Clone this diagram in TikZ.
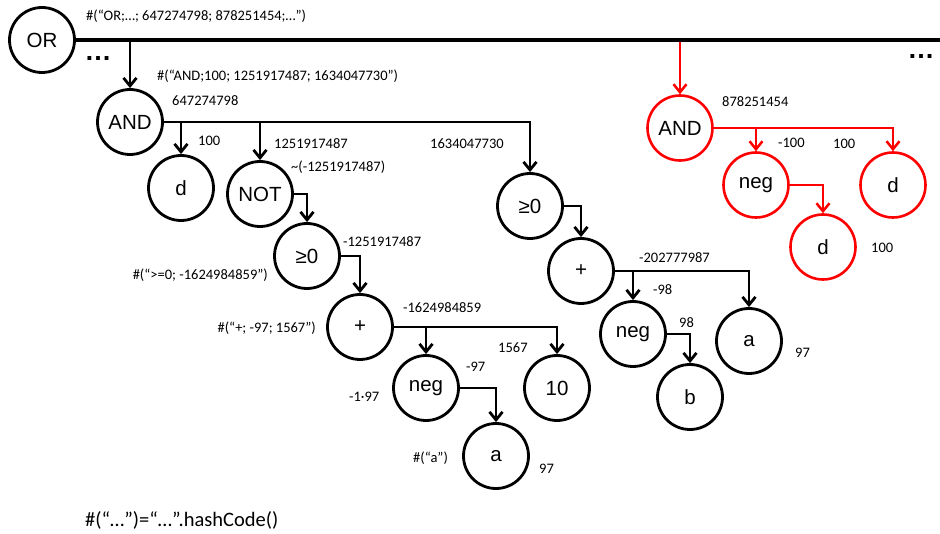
\documentclass[tikz,border=0pt]{standalone}
\usepackage{fontspec}
\setmainfont{Liberation Sans}
\newfontfamily\hashfont{Carlito}
\usetikzlibrary{shapes,arrows.meta,positioning}
\tikzset{basic/.style={draw,line width=2.8pt,fill=white,font=\fontsize{20.5}{22}\selectfont}}
\tikzset{op/.style={basic,circle,minimum size=65pt,inner sep=0pt}}
\tikzset{hot/.style={op,draw=red,line width=2.6pt}}
\tikzset{link/.style={draw,line width=2.8pt,-{Straight Barb[length=8pt,width=13pt]}}}
\tikzset{hotlink/.style={link,draw=red,line width=2.5pt}}
\tikzset{trunk/.style={draw,line width=3.8pt}}
\tikzset{hash/.style={anchor=west,inner sep=0pt,font=\hashfont\fontsize{14.5}{16}\selectfont}}
\tikzset{more/.style={inner sep=0pt,font=\bfseries\fontsize{27}{27}\selectfont}}

\begin{document}
\begin{tikzpicture}[x=1pt,y=-1pt,on grid]
    \useasboundingbox (0,0) rectangle (940,534);

    \node[op] (or) at (42,40) {OR};
    \node[op,below right=82pt and 88pt of or] (and1) {AND};
    \node[op,below right=66pt and 51pt of and1] (d1) {d};
    \node[op,below right=72pt and 130pt of and1] (not) {NOT};
    \node[op,below right=62pt and 47pt of not] (geA) {≥0};
    \node[op,below right=71pt and 53pt of geA] (plusA) {+};
    \node[op,below right=61pt and 66pt of plusA] (negA) {neg};
    \node[op,below right=61pt and 197pt of plusA] (ten) {10};
    \node[op,below right=68pt and 70pt of negA] (aA) {a};
    \node[op,below right=84pt and 400pt of and1] (geB) {≥0};
    \node[op,below right=65pt and 51pt of geB] (plusB) {+};
    \node[op,below right=63pt and 52pt of plusB] (negB) {neg};
    \node[op,below right=70pt and 168pt of plusB] (aB) {a};
    \node[op,below right=63pt and 57pt of negB] (b) {b};

    \node[hot,below right=88pt and 638pt of or] (andR) {AND};
    \node[hot,below right=57pt and 76pt of andR] (negR) {neg};
    \node[hot,below right=57pt and 213pt of andR] (dR1) {d};
    \node[hot,below right=62pt and 67pt of negR] (dR2) {d};

    \node[more] (moreL) at (98,58) {…};
    \node[more] (moreR) at (921,56) {…};

    \node[hash] (hOr) at (86,16) {\#(“OR;…; 647274798; 878251454;…”)};
    \node[hash] (hAnd) at (157,76) {\#(“AND;100; 1251917487; 1634047730”)};
    \node[hash] (vAnd) at (172,101) {647274798};
    \node[hash] (vD) at (198,141) {100};
    \node[hash] (vNotIn) at (274,144) {1251917487};
    \node[hash] (vNot) at (291,167) {\textasciitilde(-1251917487)};
    \node[hash] (vGeB) at (430,144) {1634047730};
    \node[hash] (vGeA) at (343,242) {-1251917487};
    \node[hash,anchor=east] (hGeA) at (268,275) {\#(“>=0; -1624984859”)};
    \node[hash] (vPlusA) at (403,308) {-1624984859};
    \node[hash,anchor=east] (hPlusA) at (316,328) {\#(“+; -97; 1567”)};
    \node[hash] (vTen) at (498,348) {1567};
    \node[hash] (vNegA) at (466,367) {-97};
    \node[hash] (hNegA) at (349,397) {-1·97};
    \node[hash] (hA) at (413,458) {\#(“a”)};
    \node[hash] (vA) at (539,469) {97};
    \node[hash] (vPlusB) at (639,258) {-202777987};
    \node[hash] (vNegB) at (653,290) {-98};
    \node[hash] (vB) at (679,323) {98};
    \node[hash] (vAB) at (795,353) {97};
    \node[hash] (vAndR) at (722,102) {878251454};
    \node[hash] (vNegR) at (778,143) {-100};
    \node[hash] (vDR1) at (833,144) {100};
    \node[hash] (vDR2) at (871,248) {100};
    \node[hash,font=\hashfont\fontsize{20.5}{22}\selectfont] (note) at (85,520) {\#(“…”)=“…”.hashCode()};

    \coordinate (rim) at (940,40);
    \coordinate (tapR) at (andR |- or);

        \path[hotlink] (tapR) -- (andR);
        \path[hotlink] (andR) -| (negR);
        \path[hotlink] (andR) -| (dR1);
        \path[hotlink] (negR) -| (dR2);
        \path[trunk] (or) -- (rim);
        \path[link] (or) -| (and1);
        \path[link] (and1) -| (d1);
        \path[link] (and1) -| (not);
        \path[link] (and1) -| (geB);
        \path[link] (not) -| (geA);
        \path[link] (geA) -| (plusA);
        \path[link] (plusA) -| (negA);
        \path[link] (plusA) -| (ten);
        \path[link] (negA) -| (aA);
        \path[link] (geB) -| (plusB);
        \path[link] (plusB) -| (negB);
        \path[link] (plusB) -| (aB);
        \path[link] (negB) -| (b);
\end{tikzpicture}
\end{document}
